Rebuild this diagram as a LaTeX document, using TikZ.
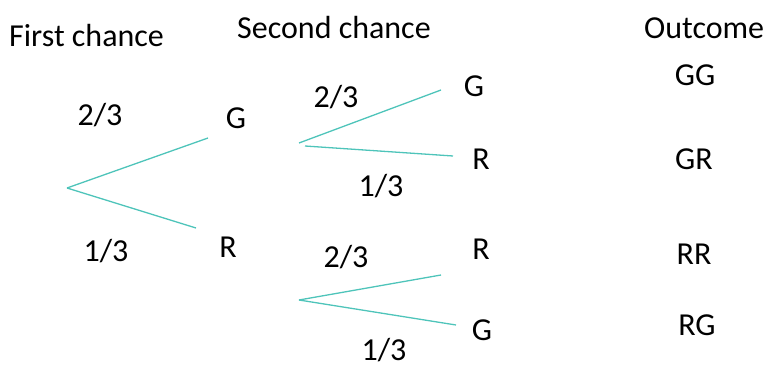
\documentclass[tikz,border=0pt]{standalone}
\usepackage{fontspec}
\setmainfont{Carlito}
\definecolor{branch}{RGB}{78,196,186}
\begin{document}
\begin{tikzpicture}[x=1pt,y=-1pt,
  lbl/.style={font=\fontsize{32}{36}\selectfont, inner sep=0pt, anchor=center},
  hdr/.style={font=\fontsize{32}{36}\selectfont, inner sep=0pt},
  br/.style={draw=branch, line width=1.3pt}]
\useasboundingbox (0,0) rectangle (765,366);
% headers
\node[hdr, anchor=west] (h1) at (9,36) {First chance};
\node[hdr, anchor=west] (h2) at (237,28) {Second chance};
\node[hdr, anchor=west] (h3) at (644,28) {Outcome};
% branch points
\coordinate (r0) at (67,188);
\coordinate (a1) at (208,138);
\coordinate (a2) at (196,228);
\coordinate (s1) at (299,143);
\coordinate (s1b) at (305,146);
\coordinate (e1) at (441,90);
\coordinate (e2) at (453,156);
\coordinate (s2) at (299,300);
\coordinate (e3) at (441,275);
\coordinate (e4) at (456,325);
\draw[br] (r0) -- (a1);
\draw[br] (r0) -- (a2);
\draw[br] (s1) -- (e1);
\draw[br] (s1b) -- (e2);
\draw[br] (s2) -- (e3);
\draw[br] (s2) -- (e4);
% labels
\node[lbl] (p1) at (100,115) {2/3};
\node[lbl] (g1) at (236,118) {G};
\node[lbl] (p2) at (106,251) {1/3};
\node[lbl] (r1) at (228,247) {R};
\node[lbl] (p3) at (336,97) {2/3};
\node[lbl] (g2) at (474,86) {G};
\node[lbl] (r2) at (481,159) {R};
\node[lbl] (p4) at (381,186) {1/3};
\node[lbl] (p5) at (346,257) {2/3};
\node[lbl] (r3) at (481,249) {R};
\node[lbl] (g3) at (482,330) {G};
\node[lbl] (p6) at (384,350) {1/3};
\node[lbl] (o1) at (695,75) {GG};
\node[lbl] (o2) at (694,159) {GR};
\node[lbl] (o3) at (694,254) {RR};
\node[lbl] (o4) at (697,325) {RG};
\end{tikzpicture}
\end{document}
